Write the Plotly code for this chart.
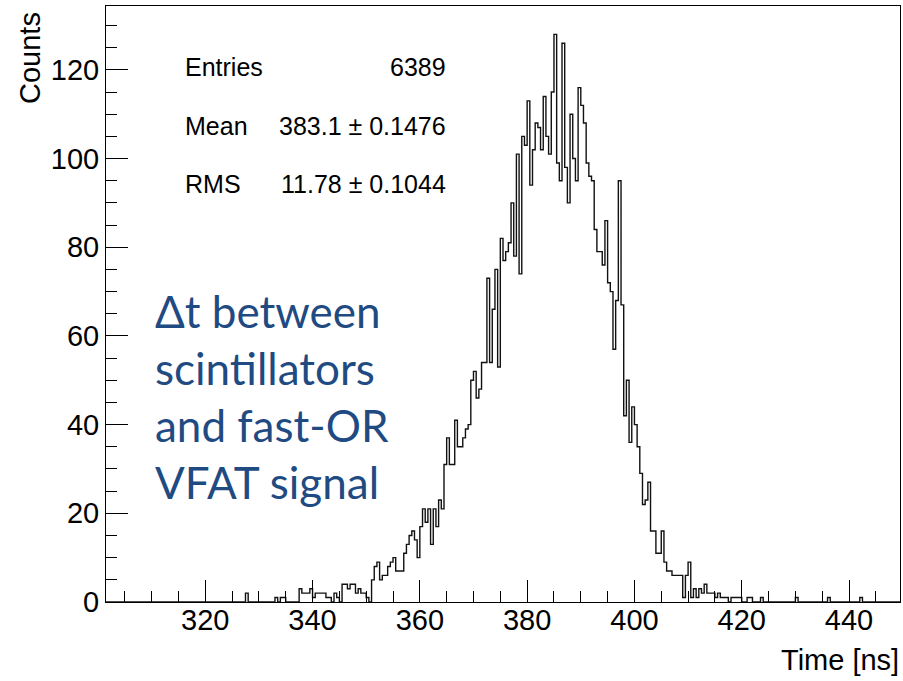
import plotly.graph_objects as go

# Histogram binning (ns)
axis_lo, axis_hi = 301.5, 449.5
bin_width = 0.5

# Bin contents starting at first_edge; bins outside this span are empty
first_edge = 327.5
counts = [
    2, 0, 0, 0, 0, 0, 0, 0, 0, 0, 0,          # 327.5 - 332.5
    1, 0, 1, 1, 0, 0, 0, 0, 0,                # 333.0 - 337.0
    3, 2, 2, 2, 3, 1, 2, 2, 2, 2,             # 337.5 - 342.0
    1, 1, 0, 2, 1, 0, 4, 4, 3, 4,             # 342.5 - 347.0
    4, 2, 3, 2, 2, 1, 0, 5, 8, 9,             # 347.5 - 352.0
    5, 6, 6, 8, 9, 10, 7, 7, 7, 11,           # 352.5 - 357.0
    13, 15, 16, 14, 10, 17, 21, 18, 21, 13,   # 357.5 - 362.0
    21, 17, 23, 21, 31, 37, 31, 31, 41, 35,   # 362.5 - 367.0
    35, 37, 39, 40, 50, 52, 46, 48, 54, 54,   # 367.5 - 372.0
    73, 54, 66, 75, 53, 82, 77, 79, 81, 90,   # 372.5 - 377.0
    78, 101, 74, 105, 103, 113, 94, 102, 108, 107,  # 377.5 - 382.0
    102, 114, 105, 101, 115, 128, 99, 95, 126, 98,  # 382.5 - 387.0
    90, 110, 100, 95, 116, 112, 108, 99, 96, 95,    # 387.5 - 392.0
    84, 79, 79, 76, 86, 72, 70, 57, 68, 95,   # 392.5 - 397.0
    67, 42, 50, 36, 44, 40, 35, 29, 22, 23,   # 397.5 - 402.0
    27, 16, 16, 11, 11, 16, 9, 7, 7, 6,       # 402.5 - 407.0
    6, 6, 6, 1, 6, 9, 1, 3, 1, 3,             # 407.5 - 412.0
    2, 4, 2, 2, 2, 1, 2, 1, 1, 1,             # 412.5 - 417.0
    0, 1, 1, 1, 1, 0, 0, 1, 1, 0,             # 417.5 - 422.0
    0, 0, 1, 0, 0, 0, 0, 0, 0, 0,             # 422.5 - 427.0
    0, 0, 0, 0, 0, 1, 0, 0, 0, 0,             # 427.5 - 432.0
    0, 0, 0, 0, 0, 0, 0, 1, 0, 0,             # 432.5 - 437.0
    0, 0, 0, 0, 0, 0, 0, 0, 0, 1,             # 437.5 - 442.0
]

stats_labels = ["Entries", "Mean", "RMS"]
stats_values = ["6389", "383.1 \u00b1 0.1476", "11.78 \u00b1 0.1044"]
note_lines = ["\u0394t between", "scintillators", "and fast-OR", "VFAT signal"]

x_title = "Time [ns]"
y_title = "Counts"

# Full set of bins across the axis range
n_bins = int(round((axis_hi - axis_lo) / bin_width))
start = int(round((first_edge - axis_lo) / bin_width))
full = [0] * n_bins
for i, c in enumerate(counts):
    full[start + i] = c
edges = [axis_lo + bin_width * i for i in range(n_bins + 1)]
ys = full + [full[-1]]

ymax = max(counts) * 1.05

W, H = 903, 681
ML, MR, MT, MB = 106, 3, 6, 79
PW, PH = W - ML - MR, H - MT - MB


def px_x(px):
    return (px - ML) / PW


def px_y(py):
    return (H - MB - py) / PH


fig = go.Figure()
fig.add_trace(go.Scatter(
    x=edges, y=ys, mode="lines", line_shape="hv",
    line=dict(color="#111111", width=1.4), hoverinfo="skip",
))

axis_common = dict(
    showline=True, linecolor="black", linewidth=1, mirror=True,
    showgrid=False, zeroline=False,
    ticks="inside", ticklen=22, tickwidth=1, tickcolor="black",
    tickfont=dict(family="Liberation Sans, Arial", size=29, color="black"),
)

fig.update_xaxes(
    range=[axis_lo, axis_hi], tickmode="linear", tick0=320, dtick=20,
    ticklabelstandoff=-8,
    minor=dict(ticks="inside", ticklen=11, tickwidth=1, tickcolor="black",
               tick0=0, dtick=5, showgrid=False),
    **axis_common,
)
fig.update_yaxes(
    range=[0, ymax], tickmode="linear", tick0=0, dtick=20,
    minor=dict(ticks="inside", ticklen=11, tickwidth=1, tickcolor="black",
               tick0=0, dtick=5, showgrid=False),
    **axis_common,
)

annotations = []
stat_rows_y = [66.7, 126, 184]
for lab, val, py in zip(stats_labels, stats_values, stat_rows_y):
    annotations.append(dict(
        x=px_x(183), y=px_y(py), xref="paper", yref="paper",
        xanchor="left", yanchor="middle", text=lab, showarrow=False,
        font=dict(family="Liberation Sans, Arial", size=25, color="black"),
    ))
    annotations.append(dict(
        x=px_x(448), y=px_y(py), xref="paper", yref="paper",
        xanchor="right", yanchor="middle", text=val, showarrow=False,
        font=dict(family="Liberation Sans, Arial", size=25, color="black"),
    ))

note_rows_y = [311, 368, 425, 482]
for line, py in zip(note_lines, note_rows_y):
    annotations.append(dict(
        x=px_x(153), y=px_y(py), xref="paper", yref="paper",
        xanchor="left", yanchor="middle", text=line, showarrow=False,
        font=dict(family="Lato", size=44, color="#1F4B82"),
    ))

annotations.append(dict(
    x=px_x(901), y=px_y(660), xref="paper", yref="paper",
    xanchor="right", yanchor="middle", text=x_title, showarrow=False,
    font=dict(family="Liberation Sans, Arial", size=29, color="black"),
))
annotations.append(dict(
    x=px_x(30), y=px_y(10), xref="paper", yref="paper",
    xanchor="center", yanchor="top", text=y_title, showarrow=False,
    textangle=-90,
    font=dict(family="Liberation Sans, Arial", size=29, color="black"),
))

fig.update_layout(
    width=W, height=H,
    margin=dict(l=ML, r=MR, t=MT, b=MB),
    plot_bgcolor="white", paper_bgcolor="white",
    showlegend=False,
    annotations=annotations,
)

fig.write_html("out.html")
